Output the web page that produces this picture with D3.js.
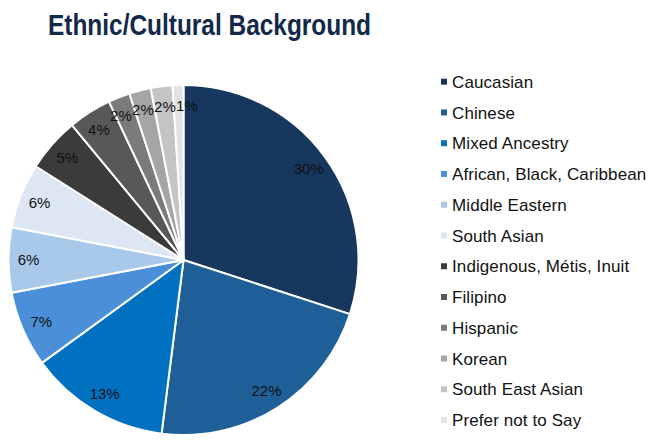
<!DOCTYPE html>
<html>
<head>
<meta charset="utf-8">
<script src="https://cdn.jsdelivr.net/npm/d3@7/dist/d3.min.js"></script>
<style>
  html, body { margin: 0; padding: 0; background: #ffffff; }
  svg { display: block; }
</style>
</head>
<body>
<svg id="chart" width="654" height="445"></svg>
<script>
// Survey breakdown, in percent
const categories = [
  "Caucasian", "Chinese", "Mixed Ancestry", "African, Black, Caribbean",
  "Middle Eastern", "South Asian", "Indigenous, Métis, Inuit", "Filipino",
  "Hispanic", "Korean", "South East Asian", "Prefer not to Say"
];
const values = [30, 22, 13, 7, 6, 6, 5, 4, 2, 2, 2, 1];
const colors = [
  "#17375e", "#1f5f97", "#0070c0", "#4a8fd8", "#a9c9eb", "#dde7f4",
  "#3b3b3b", "#585858", "#7b7b7b", "#a5a5a5", "#c4c4c4", "#e2e2e2"
];
const titleText = "Ethnic/Cultural Background";

const svg = d3.select("#chart");
const font = "'Liberation Sans', Arial, sans-serif";

// Title
svg.append("text")
  .attr("x", 48).attr("y", 35)
  .attr("font-family", "'Liberation Sans Narrow', 'Arial Narrow', " + font)
  .attr("font-weight", "bold")
  .attr("font-size", 30)
  .attr("fill", "#12294a")
  .attr("textLength", 323)
  .attr("lengthAdjust", "spacingAndGlyphs")
  .text(titleText);

// Pie
const cx = 183.5, cy = 260, radius = 175;
const data = categories.map((c, i) => ({ name: c, value: values[i], color: colors[i] }));

const pie = d3.pie().value(d => d.value).sort(null);
const arc = d3.arc().innerRadius(0).outerRadius(radius);
const labelArc = d3.arc().innerRadius(radius * 0.885).outerRadius(radius * 0.885);
const arcs = pie(data);

const g = svg.append("g").attr("transform", `translate(${cx},${cy})`);

g.selectAll("path.slice")
  .data(arcs)
  .join("path")
  .attr("class", "slice")
  .attr("d", arc)
  .attr("fill", d => d.data.color)
  .attr("stroke", "#ffffff")
  .attr("stroke-width", 2)
  .attr("stroke-linejoin", "round");

// Label anchors at the slice centroids, then spread the crowded ones
// near the top so neighbouring labels do not collide.
const labels = arcs.map(d => {
  const [x, y] = labelArc.centroid(d);
  return { d, x, y };
});
const minGap = 22;
for (let iter = 0; iter < 60; iter++) {
  for (let i = 0; i < labels.length - 1; i++) {
    const a = labels[i], b = labels[i + 1];
    if (Math.abs(a.y - b.y) < 16) {
      const gap = Math.abs(b.x - a.x);
      if (gap < minGap) {
        const push = (minGap - gap) / 2;
        // later labels lie further clockwise (to the right near the top)
        a.x -= push;
        b.x += push;
      }
    }
  }
}

g.selectAll("text.pct")
  .data(labels)
  .join("text")
  .attr("class", "pct")
  .attr("x", l => l.x)
  .attr("y", l => l.y)
  .attr("text-anchor", "middle")
  .attr("dy", "0.36em")
  .attr("font-family", font)
  .attr("font-size", 15)
  .attr("fill", "#111111")
  .text(l => l.d.data.value + "%");

// Legend
const legendY = d3.scalePoint()
  .domain(categories)
  .range([81.7, 420]);

const legend = svg.append("g");
const rows = legend.selectAll("g.row")
  .data(data)
  .join("g")
  .attr("class", "row")
  .attr("transform", d => `translate(441,${legendY(d.name)})`);

rows.append("rect")
  .attr("x", 0).attr("y", -3)
  .attr("width", 6).attr("height", 6)
  .attr("fill", d => d.color);

rows.append("text")
  .attr("x", 11)
  .attr("dy", "0.36em")
  .attr("font-family", font)
  .attr("font-size", 17)
  .attr("letter-spacing", 0.1)
  .attr("fill", "#111111")
  .text(d => d.name);
</script>
</body>
</html>
